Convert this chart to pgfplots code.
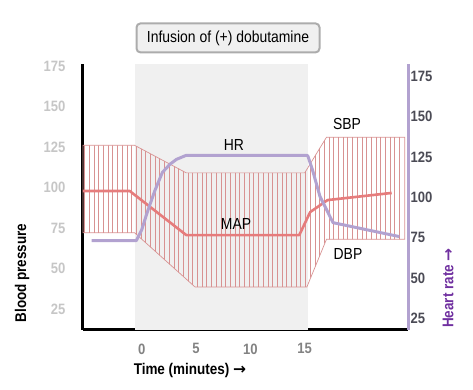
\documentclass[border=0pt]{standalone}
\usepackage{fontspec}
\setmainfont{Liberation Sans}[FakeStretch=0.87]
\newfontfamily\arrowfont{DejaVu Sans}
\usepackage{pgfplots}
\pgfplotsset{compat=1.18}
\usetikzlibrary{patterns.meta}
\definecolor{bandred}{RGB}{216,146,146}
\definecolor{mapred}{RGB}{230,124,124}
\definecolor{hrlav}{RGB}{178,162,208}
\definecolor{hrpurple}{RGB}{112,48,160}
\definecolor{rtick}{RGB}{75,75,85}
\definecolor{ltick}{RGB}{198,198,198}
\definecolor{xtickc}{RGB}{130,130,130}
\definecolor{shade}{RGB}{240,240,240}
\begin{document}
\begin{tikzpicture}
\useasboundingbox (-83pt,-60pt) rectangle (390pt,330pt);
\pgfplotsset{base/.style={scale only axis, width=325pt, height=266pt,
  at={(0pt,0pt)}, anchor=south west, xmin=-5.4, xmax=24.5, clip=false,
  major tick length=0pt, /pgf/number format/assume math mode=true,
  tick label style={font=\fontsize{15}{17}\selectfont\bfseries}}}
\begin{axis}[base, ymin=12, ymax=176.2,
  axis x line*=bottom, axis y line*=left,
  axis line style={-, black, line width=3pt},
  xtick={0,5,10,15}, ytick={25,50,...,175},
  yticklabel style={text=ltick, xshift=-14pt},
  xticklabel style={text=xtickc, yshift=-10pt}]
% infusion period shading
\addplot[fill=shade, draw=none] coordinates {(-0.65,12) (15.3,12) (15.3,176.2) (-0.65,176.2)} -- cycle;
% SBP / DBP band
\addplot[draw=bandred, line width=0.7pt,
  pattern={Lines[angle=90,distance=4.7pt,line width=0.7pt]}, pattern color=bandred]
  coordinates {(-5.4,126) (-0.65,126) (4.1,109) (15,109) (17,131) (24.2,131)
               (24.2,68) (17,68) (15.2,38.6) (4.9,38.6) (-0.65,72) (-5.4,72)} -- cycle;
% MAP
\addplot[mapred, line width=2.6pt, line join=round]
  coordinates {(-5.4,97.8) (-1.1,97.8) (4.1,70.6) (14.5,70.6) (15.5,84.8) (17.1,92.2) (23,96.6)};
\node[font=\fontsize{16}{18}\selectfont] at (axis cs:8.49,126.2) {HR};
\node[font=\fontsize{16}{18}\selectfont] at (axis cs:8.68,77.4) {MAP};
\node[font=\fontsize{16}{18}\selectfont] at (axis cs:18.89,139.2) {SBP};
\node[font=\fontsize{16}{18}\selectfont] at (axis cs:18.98,58.9) {DBP};
\node[font=\fontsize{16}{18}\selectfont, fill=shade, draw=gray!65, line width=2pt,
  rounded corners=4pt, minimum width=183pt, minimum height=29pt]
  at (axis cs:7.94,192.3) {Infusion of (+) dobutamine};
\node[rotate=90, font=\fontsize{15.5}{17}\selectfont\bfseries] at (axis cs:-11.01,47.2) {Blood pressure};
\node[rotate=90, text=hrpurple, font=\fontsize{15.5}{17}\selectfont\bfseries] at (axis cs:28.18,37.9) {Heart rate {\arrowfont\bfseries →}};
\node[font=\fontsize{15.5}{17}\selectfont\bfseries] at (axis cs:4.44,-13.3) {Time (minutes) {\arrowfont\bfseries →}};
\end{axis}
\begin{axis}[base, ymin=18.1, ymax=182.4,
  axis x line=none, axis y line*=right,
  axis line style={-, hrlav, line width=3pt},
  xtick=\empty, ytick={25,50,...,175},
  yticklabel style={text=rtick, xshift=-1pt}]
\addplot[hrlav, line width=3pt, line join=round]
  coordinates {(-4.6,73.3) (-0.5,73.3) (0.0,80) (0.5,90.6) (1.2,104) (1.9,115.4)
               (2.6,120.5) (3.2,123.5) (4.1,126) (15.2,126) (15.3,125.4) (15.7,117.3)
               (16.4,100.6) (17.6,84.4) (23.7,75.8)};
\end{axis}
\end{tikzpicture}
\end{document}
